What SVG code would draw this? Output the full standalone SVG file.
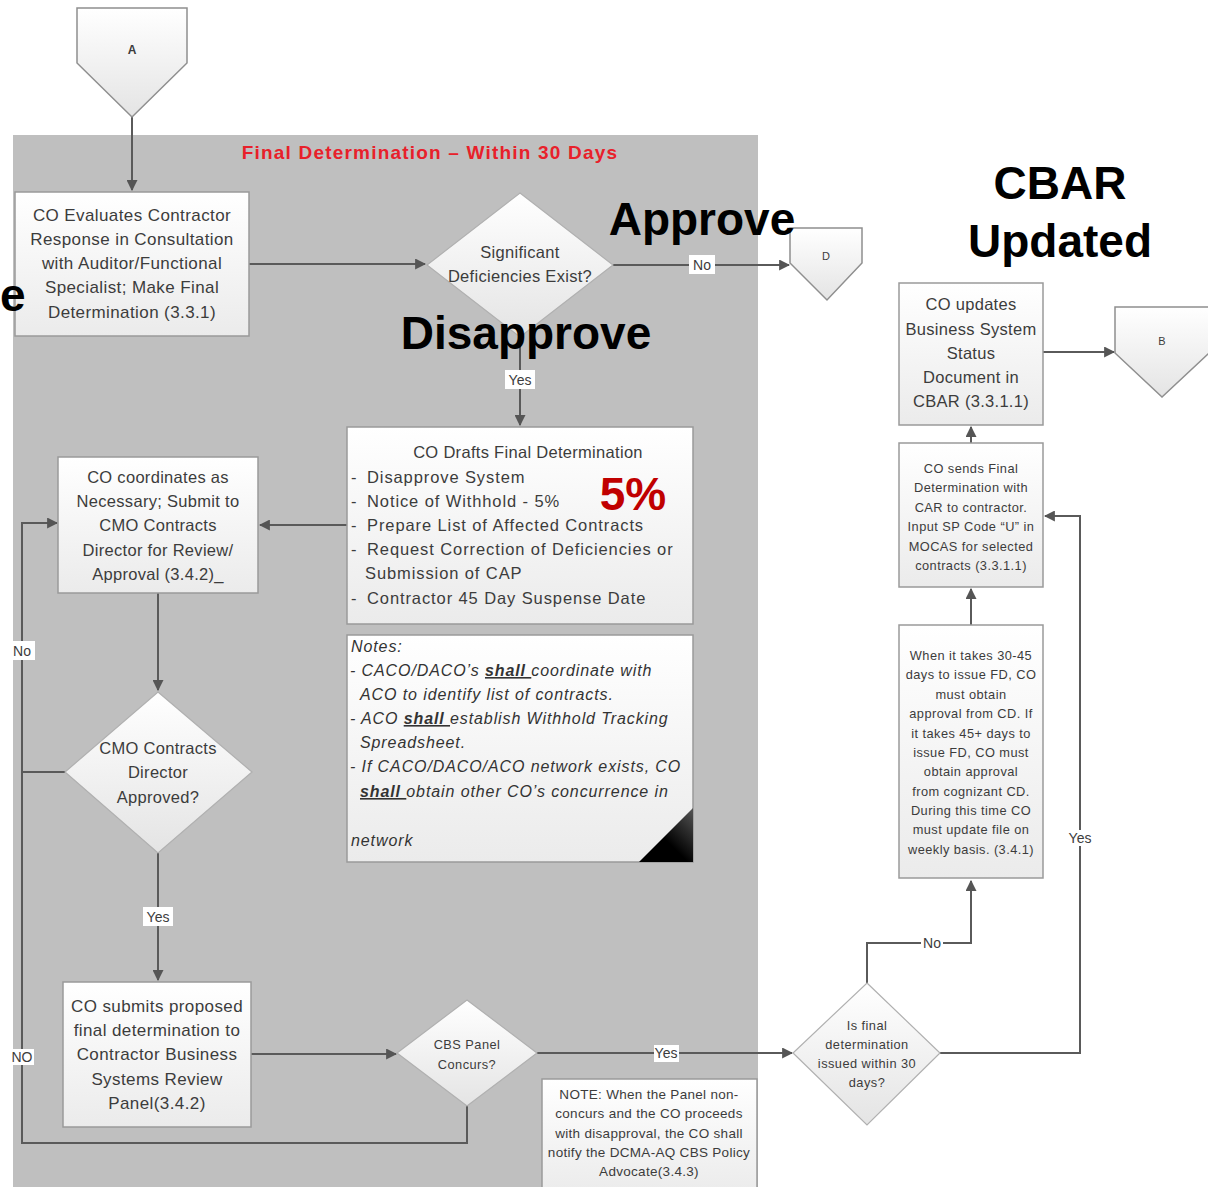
<svg xmlns="http://www.w3.org/2000/svg" width="1208" height="1187" viewBox="0 0 1208 1187">
<defs>
<linearGradient id="gBox" x1="0" y1="0" x2="0" y2="1"><stop offset="0" stop-color="#ffffff"/><stop offset="1" stop-color="#ebebeb"/></linearGradient>
<linearGradient id="gDia" x1="0" y1="0" x2="0" y2="1"><stop offset="0" stop-color="#ffffff"/><stop offset="1" stop-color="#e4e4e4"/></linearGradient>
<linearGradient id="gFold" x1="0" y1="1" x2="1" y2="0"><stop offset="0.45" stop-color="#000"/><stop offset="1" stop-color="#555"/></linearGradient>
<marker id="arr" viewBox="0 0 10 10" refX="9" refY="5" markerWidth="11" markerHeight="11" markerUnits="userSpaceOnUse" orient="auto"><path d="M0,0 L10,5 L0,10 z" fill="#555"/></marker>
</defs>
<style>
.box{fill:url(#gBox);stroke:#9a9a9a;stroke-width:1.5}
.dia{fill:url(#gDia);stroke:#b0b0b0;stroke-width:1.2}
.pent{fill:url(#gDia);stroke:#8f8f8f;stroke-width:1.5}
.t{font-family:"Liberation Sans",Arial,sans-serif;fill:#3c3c3c;text-anchor:middle}
.t17{font-size:17px;letter-spacing:0.4px}
.t16{font-size:16.5px;letter-spacing:0.3px}
.t14{font-size:13.5px;letter-spacing:0.3px}
.t13{font-size:12.8px;letter-spacing:0.45px}
.l{font-family:"Liberation Sans",Arial,sans-serif;fill:#3c3c3c;font-size:16.5px;letter-spacing:0.9px}
.n{font-family:"Liberation Sans",Arial,sans-serif;fill:#333;font-size:16px;font-style:italic;letter-spacing:0.9px}
.u{font-weight:bold;text-decoration:underline}
.big{font-family:"Liberation Sans",Arial,sans-serif;font-weight:bold;font-size:46px;fill:#000}
.lab{font-family:"Liberation Sans",Arial,sans-serif;font-size:14px;fill:#3c3c3c;text-anchor:middle}
.lbg{fill:#ffffff}
.c{fill:none;stroke:#5a5a5a;stroke-width:2}
</style>
<rect width="1208" height="1187" fill="#ffffff"/>
<rect id="panel" x="13" y="135" width="745" height="1060" fill="#bfbfbf"/>
<text x="430" y="159" font-family="Liberation Sans,Arial,sans-serif" font-weight="bold" font-size="19px" letter-spacing="1.2px" fill="#e8202a" text-anchor="middle">Final Determination – Within 30 Days</text>

<g id="connectors">
<path class="c" d="M132,117 V190" marker-end="url(#arr)"/>
<path class="c" d="M249,264 H425" marker-end="url(#arr)"/>
<path class="c" d="M613,265 H789" marker-end="url(#arr)"/>
<path class="c" d="M520,337 V425" marker-end="url(#arr)"/>
<path class="c" d="M347,525 H260" marker-end="url(#arr)"/>
<path class="c" d="M158,593 V690" marker-end="url(#arr)"/>
<path class="c" d="M65,772 H22 V523 H57" marker-end="url(#arr)"/>
<path class="c" d="M158,853 V980" marker-end="url(#arr)"/>
<path class="c" d="M251,1054 H396" marker-end="url(#arr)"/>
<path class="c" d="M467,1106 V1143 H22 V772"/>
<path class="c" d="M537,1053 H792" marker-end="url(#arr)"/>
<path class="c" d="M867,983 V943 H971 V881" marker-end="url(#arr)"/>
<path class="c" d="M940,1053 H1080 V516 H1045" marker-end="url(#arr)"/>
<path class="c" d="M971,625 V589" marker-end="url(#arr)"/>
<path class="c" d="M971,443 V427" marker-end="url(#arr)"/>
<path class="c" d="M1043,352 H1114" marker-end="url(#arr)"/>
<rect class="lbg" x="689" y="255" width="26" height="19"/><text class="lab" x="702" y="270">No</text>
<rect class="lbg" x="505" y="370" width="30" height="19"/><text class="lab" x="520" y="385">Yes</text>
<rect class="lbg" x="10" y="641" width="25" height="19"/><text class="lab" x="22" y="656">No</text>
<rect class="lbg" x="143" y="907" width="30" height="19"/><text class="lab" x="158" y="922">Yes</text>
<rect class="lbg" x="11" y="1049" width="23" height="16"/><text class="lab" x="22" y="1062" font-size="12px">NO</text>
<rect class="lbg" x="654" y="1045" width="25" height="17"/><text class="lab" x="666" y="1058" font-size="13px">Yes</text>
<rect class="lbg" x="921" y="936" width="22" height="15"/><text class="lab" x="932" y="948" font-size="13px">No</text>
<rect class="lbg" x="1068" y="830" width="25" height="16"/><text class="lab" x="1080" y="843" font-size="13px">Yes</text>
</g>

<g id="nodeA">
<polygon class="pent" points="77,8 187,8 187,63 132,117 77,63"/>
<text class="t" x="132" y="54" font-size="12px" font-weight="bold">A</text>
</g>

<g id="evaluate">
<rect class="box" x="15" y="192" width="234" height="144"/>
<text class="t t17"><tspan x="132" y="221">CO Evaluates Contractor</tspan><tspan x="132" y="245">Response in Consultation</tspan><tspan x="132" y="269">with Auditor/Functional</tspan><tspan x="132" y="293">Specialist; Make Final</tspan><tspan x="132" y="318">Determination (3.3.1)</tspan></text>
</g>

<g id="sigdef">
<polygon class="dia" points="520,193 613,265 520,337 427,265"/>
<text class="t t16"><tspan x="520" y="258">Significant</tspan><tspan x="520" y="282">Deficiencies Exist?</tspan></text>
</g>

<g id="nodeD">
<polygon class="pent" points="790,228 862,228 862,263 827,300 790,263"/>
<text class="t" x="826" y="260" font-size="11px">D</text>
</g>

<g id="drafts">
<rect class="box" x="347" y="427" width="346" height="197"/>
<text class="t t16" x="528" y="458">CO Drafts Final Determination</text>
<text class="l"><tspan x="351" y="483">-</tspan><tspan x="367" y="483">Disapprove System</tspan><tspan x="351" y="507">-</tspan><tspan x="367" y="507">Notice of Withhold  - 5%</tspan><tspan x="351" y="531">-</tspan><tspan x="367" y="531">Prepare List of Affected Contracts</tspan><tspan x="351" y="555">-</tspan><tspan x="367" y="555">Request  Correction of Deficiencies or</tspan><tspan x="365" y="579">Submission of  CAP</tspan><tspan x="351" y="604">-</tspan><tspan x="367" y="604">Contractor 45 Day Suspense Date</tspan></text>
<text x="633" y="510" font-family="Liberation Sans,Arial,sans-serif" font-weight="bold" font-size="46px" fill="#c00000" text-anchor="middle">5%</text>
</g>

<g id="notes">
<rect class="box" x="347" y="635" width="346" height="227"/>
<polygon points="693,808 693,862 639,862" fill="url(#gFold)"/>
<text class="n"><tspan x="351" y="652">Notes:</tspan><tspan x="350" y="676">- CACO/DACO’s <tspan class="u">shall </tspan>coordinate with</tspan><tspan x="360" y="700">ACO to identify list of contracts.</tspan><tspan x="350" y="724">- ACO <tspan class="u">shall </tspan>establish Withhold Tracking</tspan><tspan x="360" y="748">Spreadsheet.</tspan><tspan x="350" y="772">- If CACO/DACO/ACO network exists, CO</tspan><tspan x="360" y="797"><tspan class="u">shall </tspan>obtain other CO’s concurrence in</tspan><tspan x="351" y="846">network</tspan></text>
</g>

<g id="coordinate">
<rect class="box" x="58" y="457" width="200" height="136"/>
<text class="t t16"><tspan x="158" y="483">CO coordinates as</tspan><tspan x="158" y="507">Necessary; Submit to</tspan><tspan x="158" y="531">CMO Contracts</tspan><tspan x="158" y="556">Director for Review/</tspan><tspan x="158" y="580">Approval (3.4.2)_</tspan></text>
</g>

<g id="cmo">
<polygon class="dia" points="158,692 252,772 158,853 65,772"/>
<text class="t t16"><tspan x="158" y="754">CMO Contracts</tspan><tspan x="158" y="778">Director</tspan><tspan x="158" y="803">Approved?</tspan></text>
</g>

<g id="submits">
<rect class="box" x="63" y="982" width="188" height="145"/>
<text class="t t17"><tspan x="157" y="1012">CO submits proposed</tspan><tspan x="157" y="1036">final determination to</tspan><tspan x="157" y="1060">Contractor Business</tspan><tspan x="157" y="1085">Systems Review</tspan><tspan x="157" y="1109">Panel(3.4.2)</tspan></text>
</g>

<g id="cbs">
<polygon class="dia" points="467,1000 537,1053 467,1106 397,1053"/>
<text class="t t13"><tspan x="467" y="1049">CBS Panel</tspan><tspan x="467" y="1069">Concurs?</tspan></text>
</g>

<g id="panelnote">
<rect class="box" x="542" y="1079" width="215" height="115"/>
<text class="t t14"><tspan x="649" y="1099">NOTE:  When the Panel non-</tspan><tspan x="649" y="1118">concurs and the CO proceeds</tspan><tspan x="649" y="1138">with disapproval, the CO shall</tspan><tspan x="649" y="1157">notify the DCMA-AQ CBS Policy</tspan><tspan x="649" y="1176">Advocate(3.4.3)</tspan></text>
</g>

<g id="isfinal">
<polygon class="dia" points="867,983 940,1053 867,1125 793,1053"/>
<text class="t t13"><tspan x="867" y="1030">Is final</tspan><tspan x="867" y="1049">determination</tspan><tspan x="867" y="1068">issued within 30</tspan><tspan x="867" y="1087">days?</tspan></text>
</g>

<g id="whentakes">
<rect class="box" x="899" y="625" width="144" height="253"/>
<text class="t t13"><tspan x="971" y="660">When it takes 30-45</tspan><tspan x="971" y="679">days to issue FD, CO</tspan><tspan x="971" y="699">must obtain</tspan><tspan x="971" y="718">approval from CD. If</tspan><tspan x="971" y="738">it takes 45+ days to</tspan><tspan x="971" y="757">issue FD, CO must</tspan><tspan x="971" y="776">obtain approval</tspan><tspan x="971" y="796">from cognizant CD.</tspan><tspan x="971" y="815">During this time CO</tspan><tspan x="971" y="834">must update file on</tspan><tspan x="971" y="854">weekly basis. (3.4.1)</tspan></text>
</g>

<g id="sends">
<rect class="box" x="899" y="443" width="144" height="144"/>
<text class="t t13"><tspan x="971" y="473">CO sends Final</tspan><tspan x="971" y="492">Determination with</tspan><tspan x="971" y="512">CAR to contractor.</tspan><tspan x="971" y="531">Input SP Code “U” in</tspan><tspan x="971" y="551">MOCAS for selected</tspan><tspan x="971" y="570">contracts (3.3.1.1)</tspan></text>
</g>

<g id="updates">
<rect class="box" x="899" y="283" width="144" height="142"/>
<text class="t t16"><tspan x="971" y="310">CO updates</tspan><tspan x="971" y="335">Business System</tspan><tspan x="971" y="359">Status</tspan><tspan x="971" y="383">Document in</tspan><tspan x="971" y="407">CBAR (3.3.1.1)</tspan></text>
</g>

<g id="nodeB">
<polygon class="pent" points="1115,307 1209,307 1209,353 1162,397 1115,353"/>
<text class="t" x="1162" y="345" font-size="11px">B</text>
</g>

<g id="overlays">
<text class="big" x="0" y="311" font-size="42px">e</text>
<text class="big" x="702" y="235" text-anchor="middle">Approve</text>
<text class="big" x="526" y="349" text-anchor="middle">Disapprove</text>
<text class="big" x="1060" y="199" text-anchor="middle">CBAR</text>
<text class="big" x="1060" y="257" text-anchor="middle">Updated</text>
</g>
</svg>
